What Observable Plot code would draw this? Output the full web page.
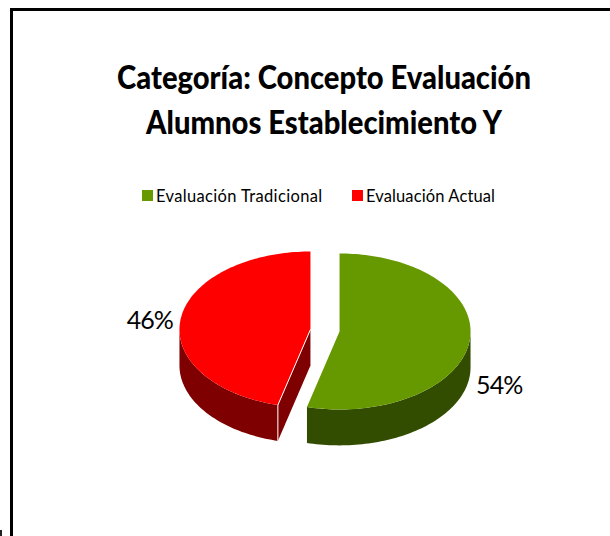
<!DOCTYPE html>
<html lang="es">
<head>
<meta charset="utf-8">
<script src="https://cdn.jsdelivr.net/npm/d3@7"></script>
<script src="https://cdn.jsdelivr.net/npm/@observablehq/plot@0.6"></script>
<style>
  html, body { margin: 0; padding: 0; background: #fff; overflow: hidden; }
  #page { position: relative; width: 610px; height: 536px; overflow: hidden; font-family: Lato, "Open Sans", sans-serif; color: #000; }
  #frame { position: absolute; left: 10px; top: 8px; width: 620px; height: 560px; border: 3px solid #000; box-sizing: border-box; }
  #tick { position: absolute; left: 0; top: 530px; width: 2px; height: 6px; background: #222; }
  h1 { position: absolute; left: 0; top: 0; margin: 0; width: 100%; font-size: 33px; font-weight: 900; line-height: 44px; }
  h1 span { position: absolute; white-space: nowrap; transform: translateX(-50%) scaleX(.884); }
  .lg { position: absolute; top: 186px; font-size: 16.5px; line-height: 20px; white-space: nowrap; }
  .sw { position: absolute; top: 190px; width: 11px; height: 11px; }
  #chart { position: absolute; left: 0; top: 215px; }
  #chart text { letter-spacing: -.9px; }
</style>
</head>
<body>
<div id="page">
  <div id="frame"></div>
  <div id="tick"></div>
  <h1><span style="left:323.5px;top:54px">Categoría: Concepto Evaluación</span><span style="left:323.5px;top:99px">Alumnos Establecimiento Y</span></h1>
  <div id="legend"></div>
  <div id="chart"></div>
</div>
<script>
const categories = ["Evaluación Tradicional", "Evaluación Actual"];
const shares = [54, 46];
const labels = ["54%", "46%"];
const topColors = ["#669900", "#ff0000"];
const sideColors = ["#334d00", "#7f0000"];

// Layout of the tilted pie (unit ellipse: x and y both span -1..1)
const depth = 0.46;               // wall height, in y units
const explodeX = [0.111, -0.111]; // slices pulled apart
const explodeY = [0.0128, -0.0128];
const total = d3.sum(shares);
const sweep = shares.map(v => (v / total) * 2 * Math.PI);

// Angles measured clockwise from the top of the pie.
const arc = (a0, a1, cx, cy) => {
  const n = Math.max(2, Math.ceil(Math.abs(a1 - a0) * 40));
  return d3.range(n + 1).map(i => {
    const a = a0 + (a1 - a0) * i / n;
    return [cx + Math.sin(a), cy - Math.cos(a)];
  });
};
const down = pts => pts.map(([x, y]) => [x, y + depth]);

// Green runs clockwise from the top; red runs counter-clockwise from the top.
const gx = explodeX[0], gy = explodeY[0], rx = explodeX[1], ry = explodeY[1];
const greenTop = [[gx, gy], ...arc(0, sweep[0], gx, gy)];
const redTop = [[rx, ry], ...arc(0, -sweep[1], rx, ry)];

// Outer walls: the part of the rim facing the viewer
const greenRim = arc(Math.PI / 2, sweep[0], gx, gy);
const greenWall = [...greenRim, ...down(greenRim).reverse()];
const redRim = arc(-Math.PI / 2, -sweep[1], rx, ry);
const redWall = [...redRim, ...down(redRim).reverse()];

// Cut face of the red slice, seen through the gap
const redEnd = redTop[redTop.length - 1];
const redCut = [[rx, ry], [rx, ry + depth], [redEnd[0], redEnd[1] + depth], redEnd];
const redEdge = [[rx, ry], redEnd, [redEnd[0], redEnd[1] + depth]];

const poly = (pts, fill) => Plot.line(pts, {x: d => d[0], y: d => d[1], fill, stroke: "none", curve: "linear"});

const plot = Plot.plot({
  width: 610,
  height: 321,
  margin: 0,
  style: {background: "transparent"},
  x: {domain: [-1, 1], range: [193.5, 455.5], axis: null},
  y: {domain: [-1, 1], range: [37, 193], axis: null},
  marks: [
    poly(greenWall, sideColors[0]),
    poly(redWall, sideColors[1]),
    poly(redCut, sideColors[1]),
    poly(greenTop, topColors[0]),
    poly(redTop, topColors[1]),
    Plot.line(redEdge, {x: d => d[0], y: d => d[1], stroke: "#fff", strokeWidth: 1}),
    Plot.text([labels[0]], {x: [1.2], y: [0.35], text: d => d, fontSize: 25, fontFamily: "Lato, 'Open Sans', sans-serif", fill: "#000", dx: 17, dy: 28}),
    Plot.text([labels[1]], {x: [-1.2], y: [-0.12], text: d => d, fontSize: 25, fontFamily: "Lato, 'Open Sans', sans-serif", fill: "#000", dx: -18, dy: 0})
  ]
});
document.getElementById("chart").appendChild(plot);

// Legend
const legendEl = document.getElementById("legend");
const swatchX = [142, 352], textX = [156, 366], spacing = [0.35, 0.12];
categories.forEach((c, i) => {
  const s = document.createElement("div");
  s.className = "sw"; s.style.left = swatchX[i] + "px"; s.style.background = topColors[i];
  const t = document.createElement("div");
  t.className = "lg"; t.style.left = textX[i] + "px"; t.style.letterSpacing = spacing[i] + "px"; t.textContent = c;
  legendEl.append(s, t);
});
</script>
</body>
</html>
